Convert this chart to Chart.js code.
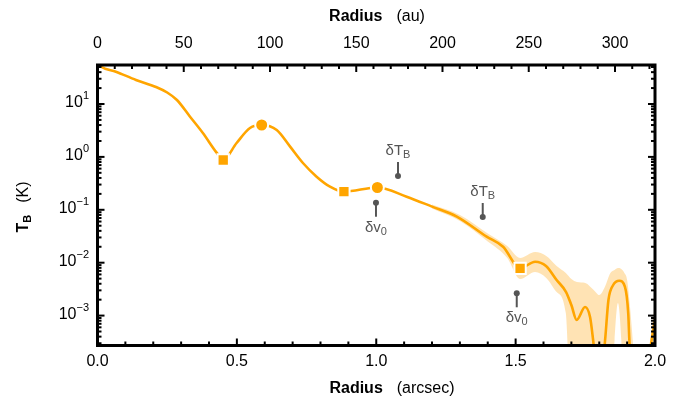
<!DOCTYPE html>
<html><head><meta charset="utf-8">
<script src="https://cdn.jsdelivr.net/npm/chart.js@4.4.1/dist/chart.umd.min.js"></script>
<style>html,body{margin:0;padding:0;background:#fff;}canvas{display:block;}</style>
</head><body>
<canvas id="c" width="696" height="404"></canvas>
<script>
// ---- data (radius in arcsec, brightness temperature in K) ----
const curveX = [0, 0.013, 0.066, 0.138, 0.210, 0.250, 0.285, 0.332, 0.378, 0.428, 0.451, 0.499, 0.547, 0.589, 0.643, 0.691, 0.737, 0.786, 0.834, 0.884, 1.004, 1.109, 1.20, 1.289, 1.396, 1.455, 1.516, 1.570, 1.609, 1.647, 1.681, 1.700, 1.719, 1.749, 1.767, 1.778, 1.800, 1.821, 1.833, 1.850, 1.872, 1.892, 1.904, 1.908, 1.930, 1.960, 1.985, 2.000];
const curveT = [60, 50.7, 40.8, 28.5, 21.0, 16.5, 11.9, 5.75, 2.83, 1.19, 0.873, 1.83, 3.52, 4.01, 3.22, 1.56, 0.767, 0.423, 0.274, 0.220, 0.264, 0.177, 0.1148, 0.0741, 0.0310, 0.0200, 0.00783, 0.01045, 0.00867, 0.00471, 0.00279, 0.00158, 0.000826, 0.00145, 0.00094, 0.000346, 0.00003, 0.000346, 0.00197, 0.00379, 0.00457, 0.00352, 0.0011, 0.000346, 0.00001, 0.00001, 0.00027, 0.00083];

const bandX  = [1.20, 1.30, 1.40, 1.47, 1.516, 1.57, 1.61, 1.647, 1.68, 1.70, 1.72, 1.75, 1.78, 1.80, 1.82, 1.84, 1.855, 1.867, 1.879, 1.89, 1.90, 1.91, 1.92, 1.94, 1.96, 1.975, 1.985, 2.00];
const bandHi = [0.1253, 0.0798, 0.0356, 0.0207, 0.0123, 0.0159, 0.0134, 0.00867, 0.00639, 0.00492, 0.00432, 0.00413, 0.00305, 0.00245, 0.00348, 0.00639, 0.0073, 0.0079, 0.0076, 0.0064, 0.00471, 0.00152, 0.00035, 0.00001, 0.00001, 0.00001, 0.00027, 0.00173];
const bandLo = [0.1054, 0.0614, 0.0252, 0.0123, 0.00492, 0.00667, 0.00514, 0.00279, 0.00112, 0.00001, 0.00001, 0.00001, 0.00001, 0.00001, 0.00001, 0.00001, 0.00035, 0.00173, 0.00035, 0.00001, 0.00001, 0.00001, 0.00001, 0.00001, 0.00001, 0.00001, 0.00001, 0.00001];

const squareX = [0.451, 0.884, 1.516];
const squareT = [0.873, 0.220, 0.00783];
const circleX = [0.589, 1.004];
const circleT = [4.01, 0.264];

// annotation pins
const pinX     = [1.078, 1.382, 0.999, 1.504];
const pinT     = [0.435, 0.0731, 0.136, 0.00264];
const pinMain  = ['δT', 'δT', 'δv', 'δv'];
const pinSub   = ['B', 'B', '0', '0'];
const pinUp    = [true, true, false, false];   // label above the dot?

// axes
const xMin = 0, xMax = 2.0;
const auMax = 323.2;
const yMin = 2.72e-4, yMax = 54.6;
const xTickVals = [0, 0.5, 1.0, 1.5, 2.0];
const xTickLabels = ['0.0', '0.5', '1.0', '1.5', '2.0'];
const auTickVals = [0, 50, 100, 150, 200, 250, 300];
const yDecades = [1, 0, -1, -2, -3];

const ORANGE = '#FFA500';
const BAND = 'rgba(255,175,40,0.35)';
const GREY = '#555555';
const FONT = '"Liberation Sans", Arial, Helvetica, sans-serif';

const pts = (xs, ys) => xs.map((v, i) => ({x: v, y: ys[i]}));

const decor = {
  id: 'decor',
  afterDatasetsDraw(chart) {
    const {ctx, scales: {x, y}} = chart;
    ctx.save();
    ctx.strokeStyle = GREY; ctx.fillStyle = GREY; ctx.lineWidth = 2;
    for (let i = 0; i < pinX.length; i++) {
      const px = x.getPixelForValue(pinX[i]);
      const py = y.getPixelForValue(pinT[i]);
      const dir = pinUp[i] ? -1 : 1;
      ctx.beginPath(); ctx.moveTo(px, py); ctx.lineTo(px, py + dir * 14); ctx.stroke();
      ctx.beginPath(); ctx.arc(px, py, 3, 0, Math.PI * 2); ctx.fill();
      const cy = py + dir * (pinUp[i] ? 26 : 24);
      ctx.font = '15px ' + FONT;
      const w1 = ctx.measureText(pinMain[i]).width;
      ctx.font = '11px ' + FONT;
      const w2 = ctx.measureText(pinSub[i]).width;
      const x0 = px - (w1 + w2) / 2;
      ctx.textBaseline = 'alphabetic'; ctx.textAlign = 'left';
      ctx.font = '15px ' + FONT;
      ctx.fillText(pinMain[i], x0, cy + 5);
      ctx.font = '11px ' + FONT;
      ctx.fillText(pinSub[i], x0 + w1, cy + 8);
    }
    ctx.restore();
  },
  afterDraw(chart) {
    const {ctx, chartArea: a, scales: {x, x2, y}} = chart;
    ctx.save();
    ctx.strokeStyle = '#000'; ctx.fillStyle = '#000';
    ctx.lineWidth = 2;
    const seg = (x1, y1, x2_, y2) => { ctx.beginPath(); ctx.moveTo(x1, y1); ctx.lineTo(x2_, y2); ctx.stroke(); };
    // bottom ticks every 0.1 arcsec
    for (let i = 0; i <= 20; i++) {
      const px = x.getPixelForValue(i / 10);
      const L = (i % 5 === 0) ? 7 : 4;
      seg(px, a.bottom, px, a.bottom - L);
    }
    // top ticks every 10 au
    for (let v = 0; v <= 320; v += 10) {
      const px = x2.getPixelForValue(v);
      const L = (v % 50 === 0) ? 7 : 4;
      seg(px, a.top, px, a.top + L);
    }
    // left/right log ticks
    for (let d = -4; d <= 1; d++) {
      for (let m = 1; m <= 9; m++) {
        const v = m * Math.pow(10, d);
        if (v < yMin || v > yMax) continue;
        const py = y.getPixelForValue(v);
        const L = (m === 1) ? 7 : 4;
        seg(a.left, py, a.left + L, py);
        seg(a.right, py, a.right - L, py);
      }
    }
    // frame
    ctx.lineWidth = 3;
    ctx.strokeRect(a.left, a.top, a.right - a.left, a.bottom - a.top);

    // tick labels
    ctx.font = '16px ' + FONT;
    ctx.textAlign = 'center'; ctx.textBaseline = 'middle';
    xTickVals.forEach((v, i) => ctx.fillText(xTickLabels[i], x.getPixelForValue(v), 362));
    auTickVals.forEach(v => ctx.fillText(String(v), x2.getPixelForValue(v), 44));
    yDecades.forEach(d => {
      const py = y.getPixelForValue(Math.pow(10, d));
      const exp = d < 0 ? '\u2212' + Math.abs(d) : String(d);
      ctx.font = '11px ' + FONT;
      const we = ctx.measureText(exp).width;
      ctx.font = '16px ' + FONT;
      const wb = ctx.measureText('10').width;
      const right = 89;
      ctx.textAlign = 'left'; ctx.textBaseline = 'alphabetic';
      ctx.fillText('10', right - we - wb, py + 3);
      ctx.font = '11px ' + FONT;
      ctx.fillText(exp, right - we, py - 5);
    });

    // axis titles
    const title = (cx, cy, bold, normal) => {
      ctx.font = 'bold 16px ' + FONT;
      const wb = ctx.measureText(bold).width;
      ctx.font = '16px ' + FONT;
      const wn = ctx.measureText(normal).width;
      const gap = 14;
      const x0 = cx - (wb + gap + wn) / 2;
      ctx.textAlign = 'left'; ctx.textBaseline = 'middle';
      ctx.font = 'bold 16px ' + FONT; ctx.fillText(bold, x0, cy);
      ctx.font = '16px ' + FONT; ctx.fillText(normal, x0 + wb + gap, cy);
    };
    title(377, 17, 'Radius', '(au)');
    title(392, 389, 'Radius', '(arcsec)');

    // y title (rotated)
    ctx.save();
    ctx.translate(22, 207);
    ctx.rotate(-Math.PI / 2);
    ctx.textBaseline = 'alphabetic'; ctx.textAlign = 'left';
    ctx.font = 'bold 16px ' + FONT;
    const wT = ctx.measureText('T').width;
    ctx.font = 'bold 11px ' + FONT;
    const wB = ctx.measureText('B').width;
    ctx.font = '16px ' + FONT;
    const wK = ctx.measureText('(K)').width;
    const gap = 12;
    const tot = wT + wB + gap + wK;
    let xx = -tot / 2;
    ctx.font = 'bold 16px ' + FONT; ctx.fillText('T', xx, 6); xx += wT;
    ctx.font = 'bold 11px ' + FONT; ctx.fillText('B', xx, 9); xx += wB + gap;
    ctx.font = '16px ' + FONT; ctx.fillText('(K)', xx, 6);
    ctx.restore();

    ctx.restore();
  }
};

new Chart(document.getElementById('c'), {
  type: 'line',
  data: {
    datasets: [
      {
        label: 'markers',
        data: pts(squareX, squareT).concat(pts(circleX, circleT)),
        showLine: false,
        pointStyle: squareX.map(() => 'rect').concat(circleX.map(() => 'circle')),
        pointRadius: squareX.map(() => 8).concat(circleX.map(() => 6.5)),
        pointBackgroundColor: ORANGE,
        pointBorderColor: '#fff',
        pointBorderWidth: 2,
        order: 0
      },
      {
        label: 'profile',
        data: pts(curveX, curveT),
        borderColor: ORANGE,
        borderWidth: 2.6,
        pointRadius: 0,
        cubicInterpolationMode: 'monotone',
        fill: false,
        order: 1
      },
      {
        label: 'upper',
        data: pts(bandX, bandHi),
        borderWidth: 0,
        borderColor: 'rgba(0,0,0,0)',
        pointRadius: 0,
        cubicInterpolationMode: 'monotone',
        backgroundColor: BAND,
        fill: '+1',
        order: 2
      },
      {
        label: 'lower',
        data: pts(bandX, bandLo),
        borderWidth: 0,
        borderColor: 'rgba(0,0,0,0)',
        pointRadius: 0,
        cubicInterpolationMode: 'monotone',
        fill: false,
        order: 3
      }
    ]
  },
  options: {
    responsive: false,
    animation: false,
    devicePixelRatio: 1,
    layout: { padding: { left: 97.5, right: 41, top: 65, bottom: 58.5 } },
    plugins: { legend: { display: false }, tooltip: { enabled: false } },
    scales: {
      x: { type: 'linear', min: xMin, max: xMax, display: false },
      x2: { type: 'linear', position: 'top', min: 0, max: auMax, display: false },
      y: { type: 'logarithmic', min: yMin, max: yMax, display: false }
    }
  },
  plugins: [decor]
});
</script>
</body></html>
